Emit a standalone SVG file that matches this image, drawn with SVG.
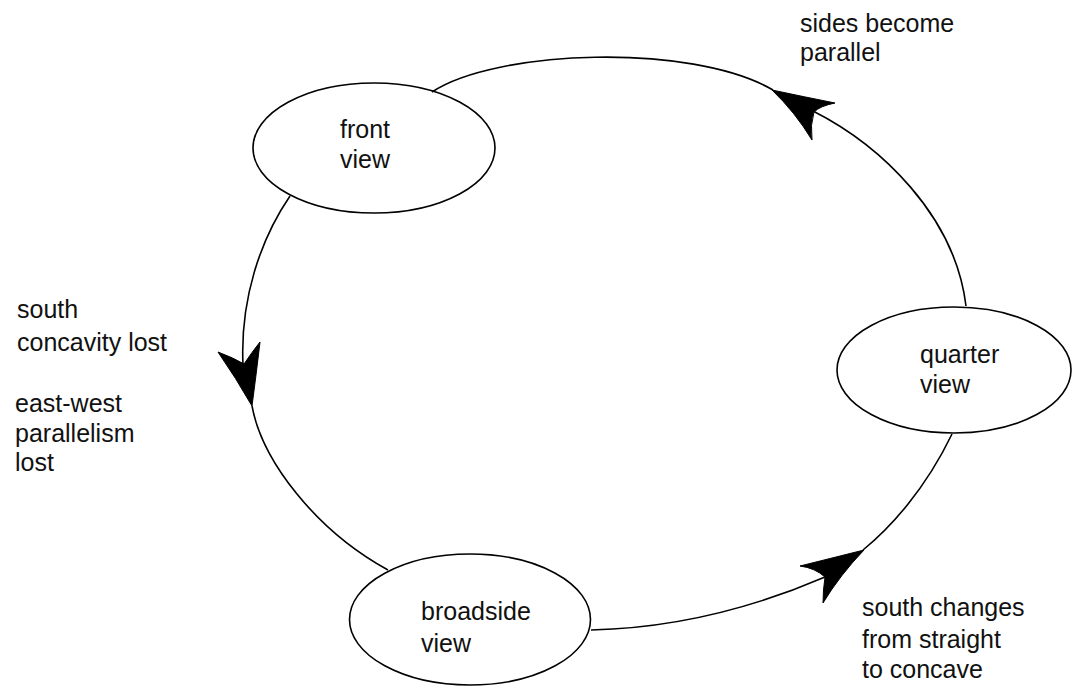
<svg xmlns="http://www.w3.org/2000/svg" width="1072" height="690" viewBox="0 0 1072 690">
  <style>
    .node ellipse { fill: none; stroke: #000; stroke-width: 1.6; }
    .label { font-family: "Liberation Sans", Arial, sans-serif; font-size: 25px; fill: #111; }
    .arc { fill: none; stroke: #000; stroke-width: 1.6; }
    .head { fill: #000; stroke: #000; stroke-width: 1; stroke-linejoin: round; }
  </style>
  <rect width="1072" height="690" fill="#fff"/>

  <!-- cycle connectors between the three views -->
  <g id="connectors">
    <!-- quarter -> front (top arc with arrowhead near the top right) -->
    <path class="arc" d="M432,92 C495,50 690,42 773,90"/>
    <path class="arc" d="M813,111 C880,145 955,215 966,306"/>
    <path class="head" d="M772,90 Q805,97 835,103 Q820,106 814,112 Q810,125 812,140 Q795,112 772,90 Z"/>

    <!-- front -> broadside (left arc with downward arrowhead) -->
    <path class="arc" d="M290,196 C260,240 240,300 243,365"/>
    <path class="arc" d="M252,406 C262,460 315,530 388,570"/>
    <path class="head" d="M252,406 Q236,378 218,352 Q234,358 244,364 Q252,352 260,342 Q256,376 252,406 Z"/>

    <!-- broadside -> quarter (bottom arc with arrowhead) -->
    <path class="arc" d="M591,630 C680,628 760,605 825,577"/>
    <path class="arc" d="M863,550 C890,528 925,490 952,434"/>
    <path class="head" d="M864,550 Q832,558 800,566 Q815,568 825,577 Q823,590 823,603 Q840,575 864,550 Z"/>
  </g>

  <g id="front-view" class="node">
    <ellipse cx="374" cy="148" rx="121" ry="65"/>
    <text class="label" x="340" y="138">front</text>
    <text class="label" x="340" y="168">view</text>
  </g>

  <g id="quarter-view" class="node">
    <ellipse cx="954" cy="370" rx="117" ry="63"/>
    <text class="label" x="920" y="363">quarter</text>
    <text class="label" x="920" y="393">view</text>
  </g>

  <g id="broadside-view" class="node">
    <ellipse cx="470" cy="619.5" rx="120.5" ry="65.5"/>
    <text class="label" x="421" y="620">broadside</text>
    <text class="label" x="421" y="652">view</text>
  </g>

  <!-- transition notes -->
  <g id="note-top">
    <text class="label" x="800" y="32">sides become</text>
    <text class="label" x="800" y="61">parallel</text>
  </g>
  <g id="note-left">
    <text class="label" x="17" y="318">south</text>
    <text class="label" x="17" y="351">concavity lost</text>
    <text class="label" x="15" y="412">east-west</text>
    <text class="label" x="15" y="442">parallelism</text>
    <text class="label" x="15" y="471">lost</text>
  </g>
  <g id="note-bottom">
    <text class="label" x="862" y="616">south changes</text>
    <text class="label" x="862" y="648">from straight</text>
    <text class="label" x="862" y="678">to concave</text>
  </g>
</svg>
